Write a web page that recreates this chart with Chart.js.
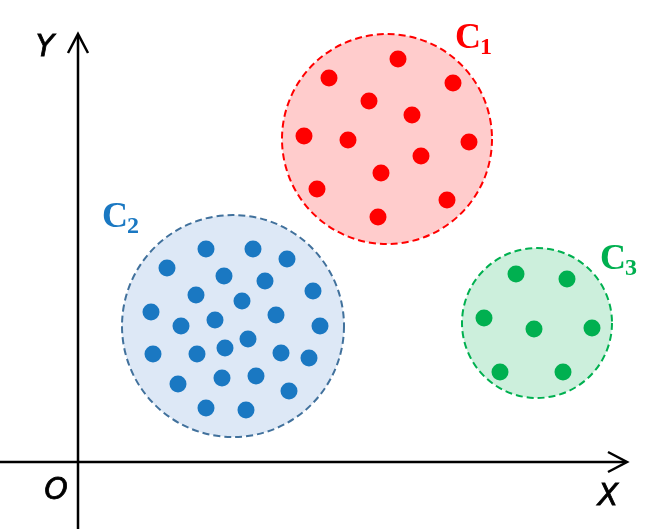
<!DOCTYPE html>
<html>
<head>
<meta charset="utf-8">
<script src="https://cdn.jsdelivr.net/npm/chart.js@4/dist/chart.umd.min.js"></script>
<style>
  html, body { margin: 0; padding: 0; background: #fff; }
  #wrap { width: 659px; height: 531px; }
</style>
</head>
<body>
<div id="wrap"><canvas id="myChart"></canvas></div>
<script>
// origin O at the axes crossing, 1 unit = 1 pixel
const xRange = [-78, 581]
const yRange = [-69, 462]

// cluster outlines: centre x, centre y, radius
const clusterNames = ['C1', 'C2', 'C3']
const clusterCx = [309, 155, 459]
const clusterCy = [323, 136, 139]
const clusterR = [105, 111, 75]

const c1x = [320, 251, 375, 291, 334, 226, 270, 391, 343, 303, 239, 369, 300]
const c1y = [403, 384, 379, 361, 347, 326, 322, 320, 306, 289, 273, 262, 245]

const c2x = [128, 175, 209, 89, 146, 187, 235, 118, 164, 73, 198, 137, 103, 242, 170, 147, 75, 119, 203, 231, 178, 144, 100, 211, 128, 168]
const c2y = [213, 213, 203, 194, 186, 181, 171, 167, 161, 150, 147, 142, 136, 136, 123, 114, 108, 108, 109, 104, 86, 84, 78, 71, 54, 52]

const c3x = [438, 489, 406, 456, 514, 422, 485]
const c3y = [188, 183, 144, 133, 134, 90, 90]

const fills = ['rgba(255,0,0,0.2)', 'rgba(84,141,212,0.2)', 'rgba(0,176,80,0.2)']
const strokes = ['#ff0000', '#41719c', '#00b050']
const dots = ['#ff0000', '#1a78c2', '#00b050']
const labelColors = ['#ff0000', '#1a78c2', '#00b050']

const pts = (xs, ys) => xs.map((x, i) => ({ x: x, y: ys[i] }))

const ctx = document.getElementById('myChart')

const clusterPlugin = {
  id: 'clusters',
  beforeDatasetsDraw(chart) {
    const c = chart.ctx
    const sx = chart.scales.x
    const sy = chart.scales.y
    c.save()
    // axes with arrow heads
    c.strokeStyle = '#000'
    c.fillStyle = '#000'
    c.lineWidth = 2.5
    const ox = sx.getPixelForValue(0)
    const oy = sy.getPixelForValue(0)
    const xEnd = sx.getPixelForValue(548)
    const yEnd = sy.getPixelForValue(427)
    c.beginPath()
    c.moveTo(sx.getPixelForValue(xRange[0]), oy)
    c.lineTo(xEnd, oy)
    c.moveTo(ox, sy.getPixelForValue(yRange[0] + 2))
    c.lineTo(ox, yEnd)
    c.stroke()
    c.beginPath()
    c.moveTo(xEnd - 18, oy - 10)
    c.lineTo(xEnd + 1, oy)
    c.lineTo(xEnd - 18, oy + 10)
    c.stroke()
    c.beginPath()
    c.moveTo(ox - 10, yEnd + 18)
    c.lineTo(ox, yEnd - 1)
    c.lineTo(ox + 10, yEnd + 18)
    c.stroke()

    c.font = 'italic 30px "DejaVu Sans"'
    c.textAlign = 'center'
    c.textBaseline = 'middle'
    c.lineWidth = 0.8
    const axisText = [['Y', -33, 414], ['O', -22, -29], ['X', 530, -35]]
    axisText.forEach(t => {
      const tx = sx.getPixelForValue(t[1])
      const ty = sy.getPixelForValue(t[2])
      c.fillText(t[0], tx, ty)
      c.strokeText(t[0], tx, ty)
    })

    // cluster discs
    clusterCx.forEach((cx, i) => {
      const px = sx.getPixelForValue(cx)
      const py = sy.getPixelForValue(clusterCy[i])
      const r = sx.getPixelForValue(cx + clusterR[i]) - px
      c.beginPath()
      c.arc(px, py, r, 0, Math.PI * 2)
      c.fillStyle = fills[i]
      c.fill()
      c.setLineDash([7, 4])
      c.lineWidth = 2
      c.strokeStyle = strokes[i]
      c.stroke()
      c.setLineDash([])
    })

    // cluster labels
    const labelX = [402, 49, 547]
    const labelY = [427, 248, 206]
    clusterNames.forEach((n, i) => {
      const px = sx.getPixelForValue(labelX[i])
      const py = sy.getPixelForValue(labelY[i])
      c.fillStyle = labelColors[i]
      c.textAlign = 'left'
      c.textBaseline = 'alphabetic'
      c.font = 'bold 36px "Liberation Serif"'
      c.fillText('C', px - 25, py + 13)
      c.font = 'bold 24px "Liberation Serif"'
      c.fillText(n.slice(1), px, py + 19)
    })
    c.restore()
  }
}

const chart = new Chart(ctx, {
  type: 'scatter',
  data: {
    datasets: [
      { label: 'C1', data: pts(c1x, c1y), backgroundColor: dots[0], borderWidth: 0, pointRadius: 8.5 },
      { label: 'C2', data: pts(c2x, c2y), backgroundColor: dots[1], borderWidth: 0, pointRadius: 8.5 },
      { label: 'C3', data: pts(c3x, c3y), backgroundColor: dots[2], borderWidth: 0, pointRadius: 8.5 }
    ]
  },
  options: {
    responsive: true,
    maintainAspectRatio: false,
    animation: false,
    layout: { padding: 0, autoPadding: false },
    plugins: { legend: { display: false }, tooltip: { enabled: false } },
    scales: {
      x: { type: 'linear', min: xRange[0], max: xRange[1], display: false },
      y: { type: 'linear', min: yRange[0], max: yRange[1], display: false }
    }
  },
  plugins: [clusterPlugin]
})
</script>
</body>
</html>
